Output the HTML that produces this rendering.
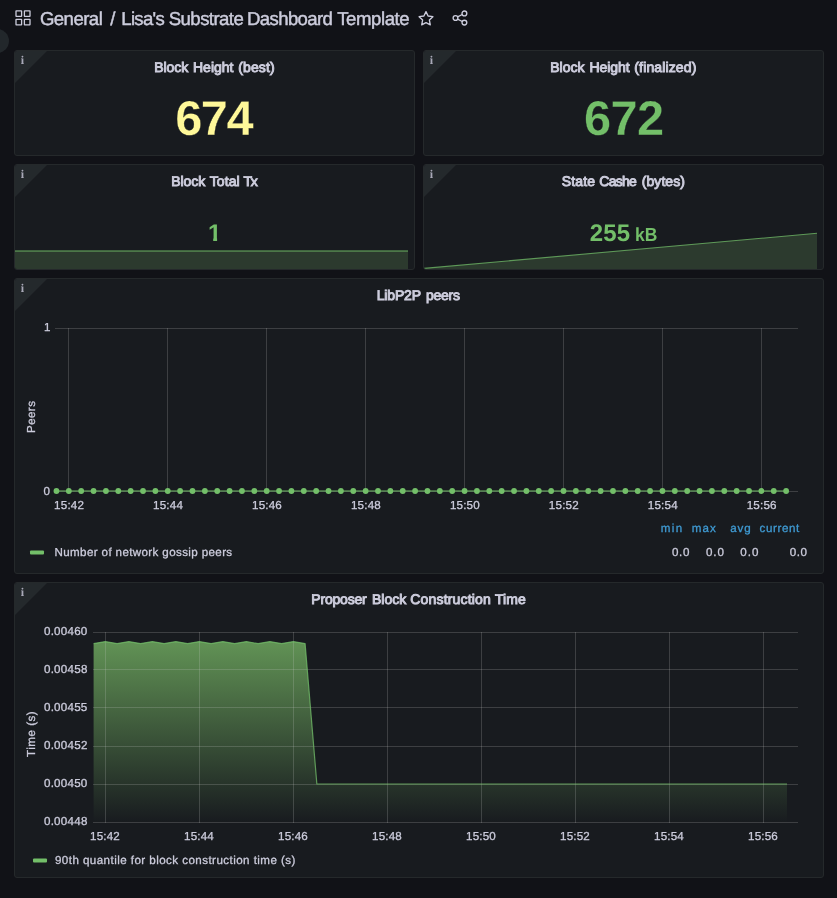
<!DOCTYPE html>
<html lang="en"><head><meta charset="utf-8"><title>Lisa's Substrate Dashboard Template</title>
<style>
*{box-sizing:border-box}
html,body{margin:0;padding:0}
body{width:837px;height:898px;overflow:hidden;background:#111217;color:#ccccdc;font-family:'Liberation Sans', sans-serif;position:relative;text-rendering:geometricPrecision}
h1,h2{margin:0;font-weight:inherit;font-size:inherit}
.hd,.ti,.big,.med,.unit,.ax{position:absolute;white-space:pre;line-height:1;margin:0}
.hd{font-size:18.6px;-webkit-text-stroke:0.45px #ccccdc}
.ti{font-size:14px;-webkit-text-stroke:0.95px #ccccdc}
.big{font-size:48.8px;font-weight:700;color:#73bf69;-webkit-text-stroke:0.35px #181b1f}
.yl{color:#fff899}
.med{font-size:24px;font-weight:700;color:#73bf69}
.one{clip-path:polygon(0 0,9.2px 0,9.2px 24px,5.3px 24px,5.3px 15.9px,0 15.9px)}
.unit{font-size:19px;font-weight:700;color:#73bf69}
.ax{font-size:11.6px;-webkit-text-stroke:0.3px #ccccdc}
.lh{color:#3f9ad2;-webkit-text-stroke-color:#3f9ad2}
.v{transform-origin:0 0;transform:rotate(-90deg)}
.abs{position:absolute}
.panel{position:absolute;background:#181b1f;border:1px solid #25292b;border-radius:3px;overflow:hidden}
.corner{position:absolute;left:-1px;top:-1px;width:0;height:0;border-top:34px solid #24292c;border-right:34px solid transparent;z-index:1}
.i{position:absolute;left:5.8px;top:2.5px;font-family:'Liberation Serif',serif;font-weight:700;font-size:12px;line-height:1;color:#a9a9b8;z-index:2}
.knob{position:absolute;left:-15.5px;top:29px;width:24px;height:24px;border-radius:50%;background:#22272b}
</style></head>
<body>
<header>
<svg class="abs" style="left:14px;top:9px" width="18" height="18" viewBox="0 0 18 18" fill="none" stroke="#ccccdc" stroke-width="1.3">
<rect x="2" y="1.8" width="5.6" height="5.6" rx="0.3"/><rect x="10.4" y="1.8" width="5.6" height="5.6" rx="0.3"/>
<rect x="2" y="10.3" width="5.6" height="5.6" rx="0.3"/><rect x="10.4" y="10.3" width="5.6" height="5.6" rx="0.3"/></svg>
<h1><span class="hd" style="left:39.88px;top:10.1px;letter-spacing:-0.54px;">General</span> <span class="hd" style="left:110.22px;top:10.1px;">/</span> <span class="hd" style="left:121.27px;top:10.1px;letter-spacing:-0.71px;">Lisa's</span> <span class="hd" style="left:168.79px;top:10.1px;letter-spacing:-0.58px;">Substrate</span> <span class="hd" style="left:247.07px;top:10.1px;letter-spacing:-0.64px;">Dashboard</span> <span class="hd" style="left:337.19px;top:10.1px;letter-spacing:-0.42px;">Template</span></h1>
<svg class="abs" style="left:416px;top:8px" width="20" height="20" viewBox="0 0 20 20" fill="none" stroke="#ccccdc" stroke-width="1.35" stroke-linejoin="round">
<path d="M10 3.6 L12.1 8 L16.9 8.7 L13.4 12.1 L14.3 16.9 L10 14.6 L5.7 16.9 L6.6 12.1 L3.1 8.7 L7.9 8 Z"/></svg>
<svg class="abs" style="left:450px;top:8px" width="20" height="20" viewBox="0 0 20 20" fill="none" stroke="#ccccdc" stroke-width="1.35">
<circle cx="14.4" cy="5.4" r="2.4"/><circle cx="5.5" cy="10" r="2.4"/><circle cx="14.4" cy="14.6" r="2.4"/>
<path d="M7.6 8.9 L12.3 6.5 M7.6 11.1 L12.3 13.5"/></svg>
<div class="knob"></div>
</header>
<main>
<section class="panel" style="left:14px;top:50px;width:401px;height:106px"><i class="corner"></i><b class="i">i</b>
<h2><span class="ti" style="left:139.2px;top:8.92px;letter-spacing:-0.04px;">Block</span> <span class="ti" style="left:178.04px;top:8.92px;letter-spacing:-0.02px;">Height</span> <span class="ti" style="left:223.31px;top:8.92px;letter-spacing:0.1px;">(best)</span></h2>
<div class="big yl" style="left:160.16px;top:44.2px;letter-spacing:-1.49px;">674</div>
</section>
<section class="panel" style="left:423px;top:50px;width:401px;height:106px"><i class="corner"></i><b class="i">i</b>
<h2><span class="ti" style="left:126.24px;top:8.92px;letter-spacing:0.03px;">Block</span> <span class="ti" style="left:165.44px;top:8.92px;letter-spacing:-0.06px;">Height</span> <span class="ti" style="left:210.31px;top:8.92px;letter-spacing:0.14px;">(finalized)</span></h2>
<div class="big" style="left:159.96px;top:44.1px;letter-spacing:-0.65px;">672</div>
</section>
<section class="panel" style="left:14px;top:164px;width:401px;height:106px"><i class="corner"></i><b class="i">i</b>
<svg class="abs" style="left:0;top:0" width="399" height="104" viewBox="15 165 399 104">
<path d="M15 251 H408 V269 H15 Z" fill="#2c3a2e"/>
<path d="M15 251 H408" stroke="#73bf69" stroke-width="1.5" fill="none" opacity="0.62"/></svg>
<h2><span class="ti" style="left:156.14px;top:8.92px;letter-spacing:-0.02px;">Block</span> <span class="ti" style="left:194.71px;top:8.92px;letter-spacing:0.1px;">Total</span> <span class="ti" style="left:228.51px;top:8.92px;letter-spacing:-1.19px;">Tx</span></h2>
<div class="med one" style="left:192.9px;top:57px">1</div>
</section>
<section class="panel" style="left:423px;top:164px;width:401px;height:106px"><i class="corner"></i><b class="i">i</b>
<svg class="abs" style="left:0;top:0" width="399" height="104" viewBox="424 165 399 104">
<path d="M424 268.4 L817 233.3 V269 H424 Z" fill="#2c3a2e"/>
<path d="M424 268.4 L817 233.3" stroke="#73bf69" stroke-width="1.1" fill="none" opacity="0.75"/></svg>
<h2><span class="ti" style="left:137.84px;top:8.92px;letter-spacing:0.11px;">State</span> <span class="ti" style="left:175.23px;top:8.92px;letter-spacing:-0.7px;">Cashe</span> <span class="ti" style="left:217.81px;top:8.92px;letter-spacing:0.05px;">(bytes)</span></h2>
<div><span class="med" style="left:165.83px;top:57.2px;letter-spacing:0.16px;">255</span> <span class="unit" style="left:210.62px;top:61.2px;transform:scaleX(0.92);transform-origin:0 0;letter-spacing:0.11px;">kB</span></div>
</section>
<section class="panel" style="left:14px;top:278px;width:810px;height:296px"><i class="corner"></i><b class="i">i</b>
<svg class="abs" style="left:0;top:0" width="808" height="294" viewBox="15 279 808 294">
<g stroke="#d0d4d0" stroke-opacity="0.2"><path d="M68.5 328 V491 M167.5 328 V491 M266.5 328 V491 M365.5 328 V491 M464.5 328 V491 M563.5 328 V491 M662.5 328 V491 M761.5 328 V491"/><path d="M55 328.5 H798 M55 491.5 H798"/></g>
<path d="M56.5 491 H786.1" stroke="#73bf69" stroke-width="1.2"/>
<g fill="#73bf69"><circle cx="56.45" cy="491" r="2.9"/><circle cx="68.82" cy="491" r="2.9"/><circle cx="81.19" cy="491" r="2.9"/><circle cx="93.55" cy="491" r="2.9"/><circle cx="105.92" cy="491" r="2.9"/><circle cx="118.29" cy="491" r="2.9"/><circle cx="130.66" cy="491" r="2.9"/><circle cx="143.02" cy="491" r="2.9"/><circle cx="155.39" cy="491" r="2.9"/><circle cx="167.76" cy="491" r="2.9"/><circle cx="180.12" cy="491" r="2.9"/><circle cx="192.49" cy="491" r="2.9"/><circle cx="204.86" cy="491" r="2.9"/><circle cx="217.23" cy="491" r="2.9"/><circle cx="229.59" cy="491" r="2.9"/><circle cx="241.96" cy="491" r="2.9"/><circle cx="254.33" cy="491" r="2.9"/><circle cx="266.7" cy="491" r="2.9"/><circle cx="279.06" cy="491" r="2.9"/><circle cx="291.43" cy="491" r="2.9"/><circle cx="303.8" cy="491" r="2.9"/><circle cx="316.17" cy="491" r="2.9"/><circle cx="328.53" cy="491" r="2.9"/><circle cx="340.9" cy="491" r="2.9"/><circle cx="353.27" cy="491" r="2.9"/><circle cx="365.64" cy="491" r="2.9"/><circle cx="378" cy="491" r="2.9"/><circle cx="390.37" cy="491" r="2.9"/><circle cx="402.74" cy="491" r="2.9"/><circle cx="415.11" cy="491" r="2.9"/><circle cx="427.47" cy="491" r="2.9"/><circle cx="439.84" cy="491" r="2.9"/><circle cx="452.21" cy="491" r="2.9"/><circle cx="464.58" cy="491" r="2.9"/><circle cx="476.94" cy="491" r="2.9"/><circle cx="489.31" cy="491" r="2.9"/><circle cx="501.68" cy="491" r="2.9"/><circle cx="514.05" cy="491" r="2.9"/><circle cx="526.41" cy="491" r="2.9"/><circle cx="538.78" cy="491" r="2.9"/><circle cx="551.15" cy="491" r="2.9"/><circle cx="563.52" cy="491" r="2.9"/><circle cx="575.88" cy="491" r="2.9"/><circle cx="588.25" cy="491" r="2.9"/><circle cx="600.62" cy="491" r="2.9"/><circle cx="612.99" cy="491" r="2.9"/><circle cx="625.36" cy="491" r="2.9"/><circle cx="637.72" cy="491" r="2.9"/><circle cx="650.09" cy="491" r="2.9"/><circle cx="662.46" cy="491" r="2.9"/><circle cx="674.83" cy="491" r="2.9"/><circle cx="687.19" cy="491" r="2.9"/><circle cx="699.56" cy="491" r="2.9"/><circle cx="711.93" cy="491" r="2.9"/><circle cx="724.3" cy="491" r="2.9"/><circle cx="736.66" cy="491" r="2.9"/><circle cx="749.03" cy="491" r="2.9"/><circle cx="761.4" cy="491" r="2.9"/><circle cx="773.76" cy="491" r="2.9"/><circle cx="786.13" cy="491" r="2.9"/></g>
<rect x="30" y="550.5" width="14" height="4" rx="1" fill="#73bf69"/>
</svg>
<h2><span class="ti" style="left:361.74px;top:9.02px;letter-spacing:-0.18px;">LibP2P</span> <span class="ti" style="left:410.96px;top:9.02px;letter-spacing:-0.27px;">peers</span></h2>
<div class="ax" style="left:28.92px;top:43px;">1</div>
<div class="ax" style="left:28.44px;top:207px;">0</div>
<div class="ax v" style="left:11.3px;top:153.86px;letter-spacing:0.41px;">Peers</div>
<div class="ax" style="left:39.12px;top:221.2px;letter-spacing:0.21px;">15:42</div>
<div class="ax" style="left:138.06px;top:221.2px;letter-spacing:0.21px;">15:44</div>
<div class="ax" style="left:237px;top:221.2px;letter-spacing:0.2px;">15:46</div>
<div class="ax" style="left:335.94px;top:221.2px;letter-spacing:0.21px;">15:48</div>
<div class="ax" style="left:434.88px;top:221.2px;letter-spacing:0.19px;">15:50</div>
<div class="ax" style="left:533.82px;top:221.2px;letter-spacing:0.21px;">15:52</div>
<div class="ax" style="left:632.76px;top:221.2px;letter-spacing:0.21px;">15:54</div>
<div class="ax" style="left:731.7px;top:221.2px;letter-spacing:0.2px;">15:56</div>
<footer>
<div class="ax lh" style="left:645.85px;top:243.9px;letter-spacing:1.33px;">min</div>
<div class="ax lh" style="left:676.85px;top:243.9px;letter-spacing:1.01px;">max</div>
<div class="ax lh" style="left:715.3px;top:243.9px;letter-spacing:0.8px;">avg</div>
<div class="ax lh" style="left:744.6px;top:243.9px;letter-spacing:0.61px;">current</div>
<div class="ax" style="left:39.54px;top:268px;letter-spacing:0.37px;">Number of network gossip peers</div>
<div class="ax" style="left:657.04px;top:268px;letter-spacing:0.6px;">0.0</div>
<div class="ax" style="left:690.94px;top:268px;letter-spacing:0.9px;">0.0</div>
<div class="ax" style="left:725.34px;top:268px;letter-spacing:0.95px;">0.0</div>
<div class="ax" style="left:774.64px;top:268px;letter-spacing:0.6px;">0.0</div>
</footer>
</section>
<section class="panel" style="left:14px;top:582px;width:810px;height:296px"><i class="corner"></i><b class="i">i</b>
<svg class="abs" style="left:0;top:0" width="808" height="294" viewBox="15 583 808 294">
<defs><linearGradient id="g6" gradientUnits="userSpaceOnUse" x1="0" y1="632.5" x2="0" y2="822.5">
<stop offset="0" stop-color="#78b866" stop-opacity="0.8"/><stop offset="1" stop-color="#78b866" stop-opacity="0"/>
</linearGradient></defs>
<path d="M93.6 643.6 L105.35 641.6 L117.1 643.6 L128.85 641.6 L140.6 643.6 L152.35 641.6 L164.1 643.6 L175.85 641.6 L187.6 643.6 L199.35 641.6 L211.1 643.6 L222.85 641.6 L234.6 643.6 L246.35 641.6 L258.1 643.6 L269.85 641.6 L281.6 643.6 L293.35 641.6 L305.1 643.6 L316.85 784 L787 784 V822.5 H93.6 Z" fill="url(#g6)"/>
<g stroke="#d0d4d0" stroke-opacity="0.2"><path d="M105.5 632 V823 M199.5 632 V823 M293.5 632 V823 M387.5 632 V823 M481.5 632 V823 M575.5 632 V823 M669.5 632 V823 M763.5 632 V823"/><path d="M93 632.5 H798 M93 669.5 H798 M93 707.5 H798 M93 746.5 H798 M93 784.5 H798 M93 822.5 H798"/></g>
<path d="M93.6 643.6 L105.35 641.6 L117.1 643.6 L128.85 641.6 L140.6 643.6 L152.35 641.6 L164.1 643.6 L175.85 641.6 L187.6 643.6 L199.35 641.6 L211.1 643.6 L222.85 641.6 L234.6 643.6 L246.35 641.6 L258.1 643.6 L269.85 641.6 L281.6 643.6 L293.35 641.6 L305.1 643.6 L316.85 784 L787 784" stroke="#73bf69" stroke-width="1.2" fill="none" stroke-linejoin="round" opacity="0.75"/>
<rect x="33" y="858.5" width="14" height="4" rx="1" fill="#73bf69"/>
</svg>
<h2><span class="ti" style="left:296.3px;top:9.02px;letter-spacing:-0.19px;">Proposer</span> <span class="ti" style="left:356.94px;top:9.02px;letter-spacing:0.03px;">Block</span> <span class="ti" style="left:395.33px;top:9.02px;letter-spacing:0.17px;">Construction</span> <span class="ti" style="left:479.96px;top:9.02px;letter-spacing:0.05px;">Time</span></h2>
<div class="ax" style="left:28.94px;top:42.9px;letter-spacing:0.24px;">0.00460</div>
<div class="ax" style="left:28.94px;top:80.9px;letter-spacing:0.25px;">0.00458</div>
<div class="ax" style="left:28.94px;top:118.9px;letter-spacing:0.24px;">0.00455</div>
<div class="ax" style="left:28.94px;top:156.9px;letter-spacing:0.25px;">0.00452</div>
<div class="ax" style="left:28.94px;top:194.9px;letter-spacing:0.24px;">0.00450</div>
<div class="ax" style="left:28.94px;top:232.9px;letter-spacing:0.25px;">0.00448</div>
<div class="ax v" style="left:10.8px;top:174.01px;letter-spacing:0.52px;">Time (s)</div>
<div class="ax" style="left:75.02px;top:248.3px;letter-spacing:0.19px;">15:42</div>
<div class="ax" style="left:169.02px;top:248.3px;letter-spacing:0.19px;">15:44</div>
<div class="ax" style="left:263.02px;top:248.3px;letter-spacing:0.18px;">15:46</div>
<div class="ax" style="left:357.02px;top:248.3px;letter-spacing:0.18px;">15:48</div>
<div class="ax" style="left:451.02px;top:248.3px;letter-spacing:0.17px;">15:50</div>
<div class="ax" style="left:545.02px;top:248.3px;letter-spacing:0.19px;">15:52</div>
<div class="ax" style="left:639.02px;top:248.3px;letter-spacing:0.19px;">15:54</div>
<div class="ax" style="left:733.02px;top:248.3px;letter-spacing:0.18px;">15:56</div>
<footer><div class="ax" style="left:39.97px;top:272px;letter-spacing:0.44px;">90th quantile for block construction time (s)</div></footer>
</section>
</main>
</body></html>
